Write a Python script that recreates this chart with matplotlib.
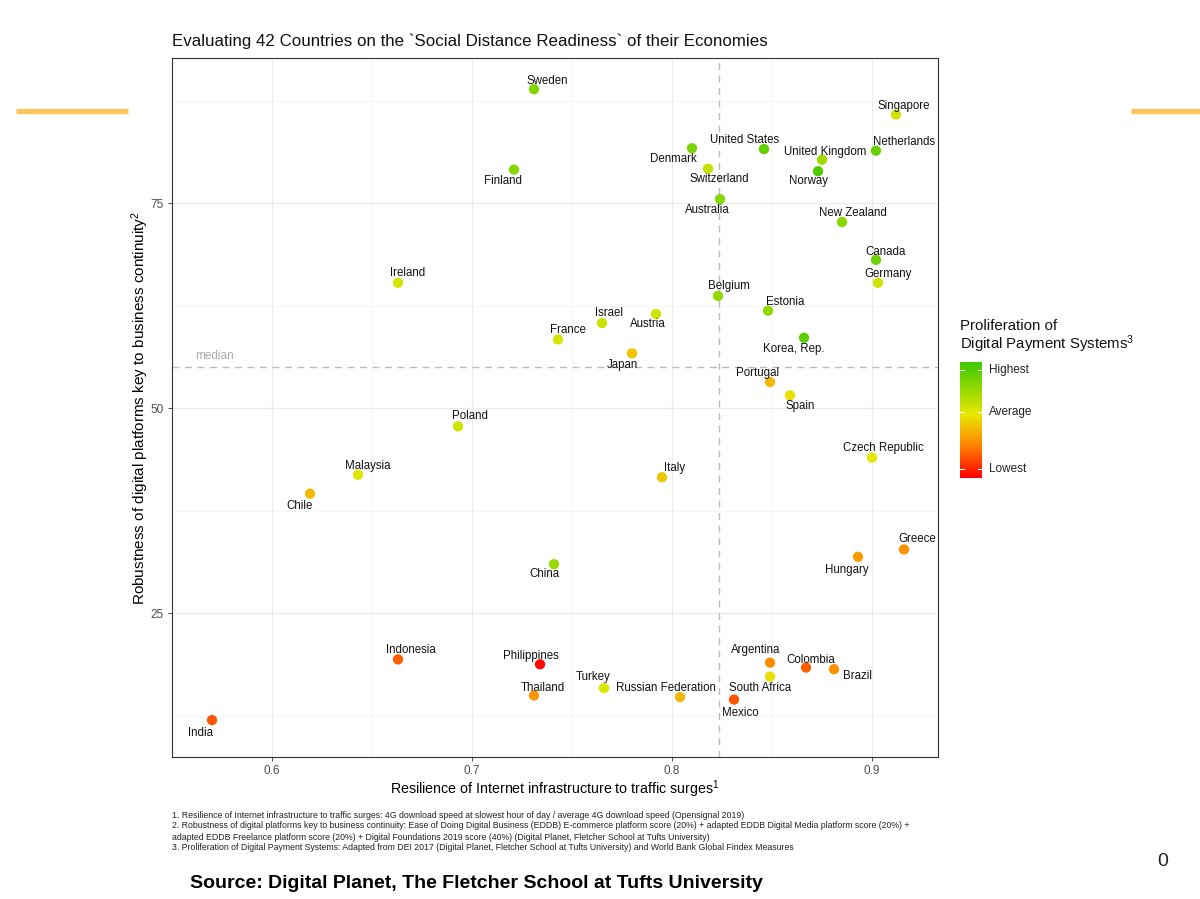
import matplotlib
matplotlib.use("Agg")
import matplotlib.pyplot as plt
import numpy as np
from matplotlib.colors import LinearSegmentedColormap
from matplotlib.lines import Line2D

plt.rcParams['font.family'] = ['Liberation Sans', 'DejaVu Sans']
plt.rcParams['mathtext.fontset'] = 'custom'
plt.rcParams['mathtext.rm'] = 'Liberation Sans'
plt.rcParams['mathtext.it'] = 'Liberation Sans:italic'
plt.rcParams['mathtext.bf'] = 'Liberation Sans:bold'

countries = ["Sweden", "Singapore", "United States", "Netherlands", "Denmark",
             "United Kingdom", "Norway", "Switzerland", "Finland", "Australia",
             "New Zealand", "Canada", "Ireland", "Germany", "Belgium", "Estonia",
             "Austria", "Israel", "Korea, Rep.", "France", "Japan", "Portugal",
             "Spain", "Poland", "Czech Republic", "Italy", "Malaysia", "Chile",
             "Greece", "Hungary", "China", "Indonesia", "Philippines", "Argentina",
             "Colombia", "Brazil", "South Africa", "Turkey", "Thailand",
             "Russian Federation", "Mexico", "India"]
resilience = [0.731, 0.912, 0.846, 0.902, 0.810, 0.875, 0.873, 0.818, 0.721, 0.824,
              0.885, 0.902, 0.663, 0.903, 0.823, 0.848, 0.792, 0.765, 0.866, 0.743,
              0.780, 0.849, 0.859, 0.693, 0.900, 0.795, 0.643, 0.619, 0.916, 0.893,
              0.741, 0.663, 0.734, 0.849, 0.867, 0.881, 0.849, 0.766, 0.731, 0.804,
              0.831, 0.570]
robustness = [88.9, 85.8, 81.6, 81.4, 81.7, 80.3, 78.9, 79.2, 79.1, 75.5,
              72.7, 68.1, 65.3, 65.3, 63.7, 61.9, 61.5, 60.4, 58.6, 58.4,
              56.7, 53.2, 51.6, 47.8, 44.0, 41.6, 41.9, 39.6, 32.8, 31.9,
              31.0, 19.4, 18.8, 19.0, 18.4, 18.2, 17.3, 15.9, 15.0, 14.8,
              14.5, 12.0]
payments = [0.82, 0.62, 0.90, 0.88, 0.84, 0.74, 0.95, 0.64, 0.79, 0.80,
            0.80, 0.87, 0.60, 0.62, 0.77, 0.78, 0.62, 0.63, 0.92, 0.60,
            0.45, 0.42, 0.52, 0.62, 0.56, 0.45, 0.58, 0.42, 0.32, 0.35,
            0.75, 0.20, 0.02, 0.30, 0.20, 0.32, 0.53, 0.58, 0.33, 0.42,
            0.18, 0.18]
median_x = 0.8237
median_y = 55.0

# label offsets in pixels (dx, dy with dy positive = up)
label_offsets = {
    "Sweden": (13, 8), "Singapore": (8, 9), "United States": (-19, 9),
    "Netherlands": (28, 9), "Denmark": (-19, -11), "United Kingdom": (3, 8),
    "Norway": (-10, -10), "Switzerland": (11, -10), "Finland": (-11, -11),
    "Australia": (-13, -11), "New Zealand": (11, 9), "Canada": (10, 8),
    "Ireland": (10, 10), "Germany": (10, 9), "Belgium": (11, 10),
    "Estonia": (17, 9), "Austria": (-8, -10), "Israel": (7, 10),
    "Korea, Rep.": (-10, -11), "France": (10, 9), "Japan": (-10, -12),
    "Portugal": (-12, 9), "Spain": (10, -11), "Poland": (12, 10),
    "Czech Republic": (11, 10), "Italy": (13, 9), "Malaysia": (10, 9),
    "Chile": (-10, -12), "Greece": (13, 10), "Hungary": (-11, -13),
    "China": (-10, -10), "Indonesia": (13, 9), "Philippines": (-9, 8),
    "Argentina": (-14, 13), "Colombia": (5, 8), "Brazil": (24, -7),
    "South Africa": (-10, -11), "Turkey": (-11, 11), "Thailand": (9, 7),
    "Russian Federation": (-14, 9), "Mexico": (6, -13), "India": (-11, -13),
}

cmap = LinearSegmentedColormap.from_list(
    "pay", [(0.0, "#FF0000"), (0.3, "#FF8C00"), (0.55, "#E8E800"), (1.0, "#3CC800")])

W, H = 1200, 899
fig = plt.figure(figsize=(W / 100, H / 100), dpi=100)

def fx(px):
    return px / W

def fy(py):
    return 1 - py / H

ax = fig.add_axes([fx(172), fy(757), fx(938) - fx(172), fy(58) - fy(757)])
ax.set_xlim(0.5526, 0.933)
ax.set_ylim(7.5, 92.7)

ax.set_xticks([0.6, 0.7, 0.8, 0.9])
ax.set_xticklabels(["0.6", "0.7", "0.8", "0.9"])
ax.set_yticks([25, 50, 75])
ax.set_xticks([0.55, 0.65, 0.75, 0.85], minor=True)
ax.set_yticks([12.5, 37.5, 62.5, 87.5], minor=True)
ax.grid(True, which="major", color="#EBEBEB", lw=0.9, zorder=0)
ax.grid(True, which="minor", color="#F2F2F2", lw=0.5, zorder=0)
ax.tick_params(which="minor", length=0)
ax.tick_params(which="major", length=3, color="#333333", labelsize=8.5,
               labelcolor="#4D4D4D", width=0.6, pad=3)
for s in ax.spines.values():
    s.set_color("#333333")
    s.set_linewidth(0.8)
ax.set_axisbelow(True)

ax.axvline(median_x, color="#BBBBBB", lw=1.0, ls=(0, (5, 4)), zorder=1)
ax.axhline(median_y, color="#BBBBBB", lw=1.0, ls=(0, (5, 4)), zorder=1)
ax.text(0.5617, median_y + 0.6, "median", color="#AAAAAA", fontsize=8.5,
        ha="left", va="bottom")

sc = ax.scatter(resilience, robustness, c=payments, cmap=cmap, vmin=0, vmax=1,
                s=55, edgecolors="none", zorder=3)

for name, xv, yv in zip(countries, resilience, robustness):
    dx, dy = label_offsets[name]
    ax.annotate(name, (xv, yv), xytext=(dx, dy), textcoords="offset pixels",
                ha="center", va="center", fontsize=8.3, color="#111111", zorder=4)

ax.set_xlabel("Resilience of Internet infrastructure to traffic surges$^{1}$",
              fontsize=10.3, labelpad=1)
ax.set_ylabel("Robustness of digital platforms key to business continuity$^{2}$",
              fontsize=11, labelpad=-0.5)

fig.text(fx(172), fy(41), "Evaluating 42 Countries on the `Social Distance Readiness` of their Economies",
         fontsize=12.2, ha="left", va="center", color="#111111")

# colorbar legend
cax = fig.add_axes([fx(960), fy(478), fx(982) - fx(960), fy(362) - fy(478)])
grad = np.linspace(0, 1, 256).reshape(-1, 1)
cax.imshow(grad, aspect="auto", cmap=cmap, origin="lower", extent=[0, 1, 0, 1])
cax.set_xticks([])
cax.set_yticks([])
for s in cax.spines.values():
    s.set_visible(False)
legend_labels = ["Lowest", "Average", "Highest"]
legend_pos = [0.08, 0.57, 0.93]
for lab, pos in zip(legend_labels, legend_pos):
    cax.text(1.3, pos, lab, transform=cax.transAxes, fontsize=8.5,
             va="center", ha="left", color="#222222")
    cax.plot([0, 0.2], [pos, pos], color="white", lw=0.8, transform=cax.transAxes)
    cax.plot([0.8, 1.0], [pos, pos], color="white", lw=0.8, transform=cax.transAxes)
fig.text(fx(960), fy(337), "Proliferation of\nDigital Payment Systems$^{3}$",
         fontsize=10.8, ha="left", va="center", color="#111111", linespacing=1.05)

# footnotes
notes = [
    "1. Resilience of Internet infrastructure to traffic surges: 4G download speed at slowest hour of day / average 4G download speed (Opensignal 2019)",
    "2. Robustness of digital platforms key to business continuity: Ease of Doing Digital Business (EDDB) E-commerce platform score (20%) + adapted EDDB Digital Media platform score (20%) +",
    "adapted EDDB Freelance platform score (20%) + Digital Foundations 2019 score (40%) (Digital Planet, Fletcher School at Tufts University)",
    "3. Proliferation of Digital Payment Systems: Adapted from DEI 2017 (Digital Planet, Fletcher School at Tufts University) and World Bank Global Findex Measures",
]
for i, n in enumerate(notes):
    fig.text(fx(172), fy(815 + i * 11), n, fontsize=6.3, ha="left", va="center",
             color="#222222")

fig.text(fx(190), fy(883), "Source: Digital Planet, The Fletcher School at Tufts University",
         fontsize=14, fontweight="bold", ha="left", va="center", color="#000000")
fig.text(fx(1163), fy(862), "0", fontsize=14, ha="center", va="center", color="#222222")

# decorative bars
fig.add_artist(Line2D([fx(16), fx(128)], [fy(111), fy(111)], color="#FDC65A", lw=3.8,
                      solid_capstyle="butt"))
fig.add_artist(Line2D([fx(1131), fx(1200)], [fy(111), fy(111)], color="#FDC65A", lw=3.8,
                      solid_capstyle="butt"))

fig.savefig("out.png", dpi=100)
